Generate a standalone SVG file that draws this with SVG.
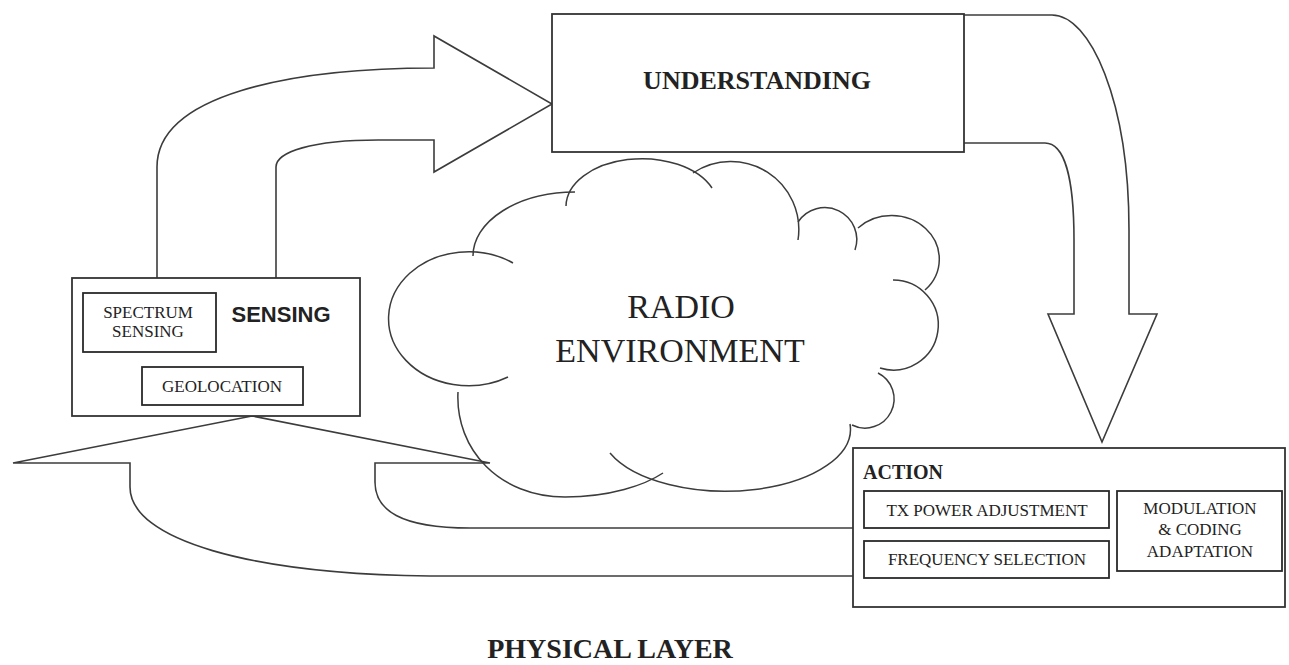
<svg xmlns="http://www.w3.org/2000/svg" width="1289" height="665" viewBox="0 0 1289 665">
  <style>
    .box { fill: #fff; stroke: #333; stroke-width: 1.8; }
    .sub { fill: #fff; stroke: #2a2a2a; stroke-width: 1.8; }
    .flow { fill: none; stroke: #3c3c3c; stroke-width: 1.6; stroke-linejoin: miter; }
    .lobe { fill: none; stroke: #3c3c3c; stroke-width: 1.5; }
    .serif { font-family: "Liberation Serif", "Times New Roman", serif; fill: #222; }
    .small { font-size: 17px; text-anchor: middle; }
  </style>
  <rect width="1289" height="665" fill="#fff"/>

  <!-- block arrows linking the stages -->
  <g id="connectors">
    <!-- sensing -> understanding -->
    <path class="flow" d="M157,278 L157,167 C157,95 290,68 434,68 L434,36 L552,104 L434,172 L434,140 L378,140 C312,140 276,152 276,167 L276,278"/>
    <!-- understanding -> action -->
    <path class="flow" d="M964,15 L1052,15 C1090,15 1129,100 1129,230 L1129,314 L1157,314 L1102,442 L1048,314 L1074,314 L1074,240 C1074,180 1065,143 1045,143 L964,143"/>
    <!-- action -> back to sensing -->
    <path class="flow" d="M853,576 L430,576 C250,574 130,540 130,487 L130,463 L13,463 L252,416 L490,463 L375,463 L375,482 C375,510 400,528 470,528 L853,528"/>
  </g>

  <!-- radio environment cloud -->
  <g id="radio-environment">
    <path class="lobe" d="M513,263 A80,67 0 1,0 508,377"/>
    <path class="lobe" d="M473,256 A102,64 0 0,1 575,192"/>
    <path class="lobe" d="M566,206 A76,48 0 0,1 712,188"/>
    <path class="lobe" d="M693,173 A68,68 0 0,1 798,240"/>
    <path class="lobe" d="M798,222 A32,32 0 0,1 855,250"/>
    <path class="lobe" d="M858,228 A44,40 0 1,1 925,290"/>
    <path class="lobe" d="M893,280 A45,45 0 1,1 880,368"/>
    <path class="lobe" d="M878,373 A28,28 0 0,1 852,425"/>
    <path class="lobe" d="M850,424 A125,62 0 0,1 610,453"/>
    <path class="lobe" d="M458,392 C455,450 500,497 565,497 C610,497 645,485 663,473"/>
    <text class="serif" x="681" y="318" font-size="34" text-anchor="middle">RADIO</text>
    <text class="serif" x="680" y="362" font-size="34" text-anchor="middle">ENVIRONMENT</text>
  </g>

  <!-- understanding stage -->
  <g id="understanding">
    <rect class="box" x="552" y="14" width="412" height="138"/>
    <text class="serif" x="757" y="89" font-size="26" font-weight="bold" text-anchor="middle">UNDERSTANDING</text>
  </g>

  <!-- sensing stage -->
  <g id="sensing">
    <rect class="box" x="72" y="278" width="288" height="138"/>
    <text x="281" y="322" font-family="'Liberation Sans', Arial, sans-serif" font-size="22" font-weight="bold" fill="#222" text-anchor="middle">SENSING</text>
    <g id="spectrum-sensing">
      <rect class="sub" x="83" y="293" width="133" height="59"/>
      <text class="serif small" x="148" y="318" font-size="16">SPECTRUM</text>
      <text class="serif small" x="148" y="337" font-size="16">SENSING</text>
    </g>
    <g id="geolocation">
      <rect class="sub" x="142" y="367" width="161" height="38"/>
      <text class="serif small" x="222" y="392" font-size="16">GEOLOCATION</text>
    </g>
  </g>

  <!-- action stage -->
  <g id="action">
    <rect class="box" x="853" y="448" width="432" height="159"/>
    <text class="serif" x="863" y="479" font-size="20" font-weight="bold">ACTION</text>
    <g id="tx-power">
      <rect class="sub" x="864" y="491" width="245" height="37"/>
      <text class="serif small" x="987" y="516">TX POWER ADJUSTMENT</text>
    </g>
    <g id="frequency-selection">
      <rect class="sub" x="864" y="541" width="245" height="37"/>
      <text class="serif small" x="987" y="565">FREQUENCY SELECTION</text>
    </g>
    <g id="modulation-coding">
      <rect class="sub" x="1117" y="491" width="165" height="80"/>
      <text class="serif small" x="1200" y="514">MODULATION</text>
      <text class="serif small" x="1200" y="535">&amp; CODING</text>
      <text class="serif small" x="1200" y="557">ADAPTATION</text>
    </g>
  </g>

  <!-- layer caption -->
  <g id="caption">
    <text class="serif" x="610" y="658" font-size="28" font-weight="bold" text-anchor="middle">PHYSICAL LAYER</text>
  </g>
</svg>
